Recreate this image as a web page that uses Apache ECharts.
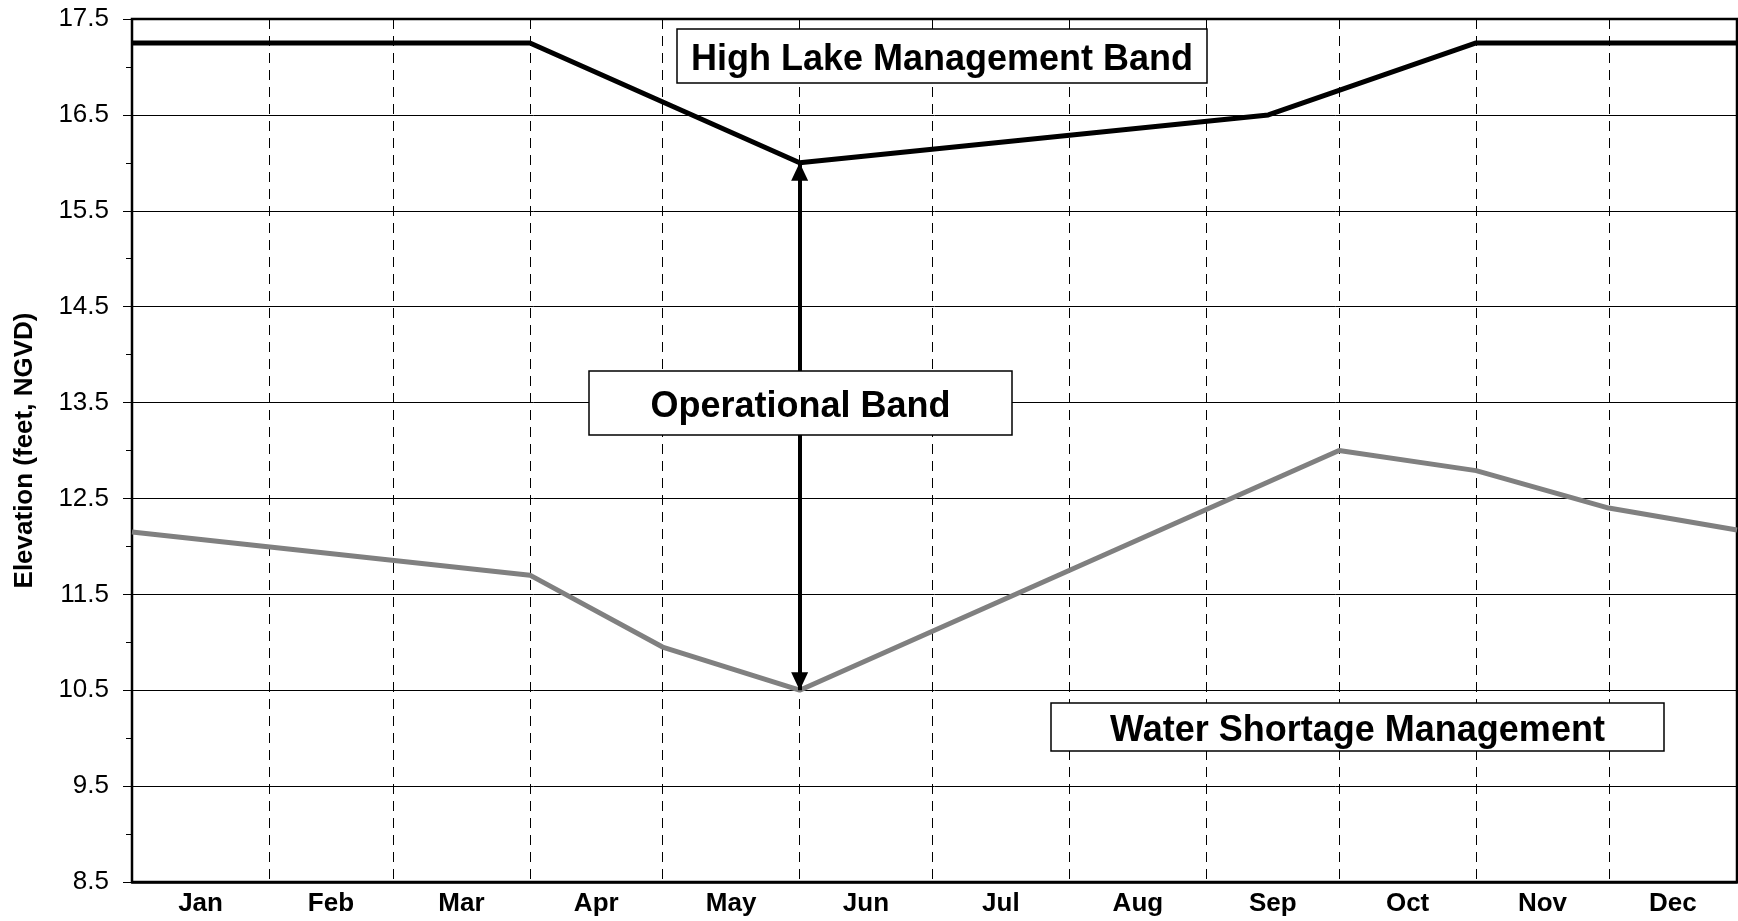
<!DOCTYPE html>
<html>
<head>
<meta charset="utf-8">
<title>Lake regulation schedule</title>
<script src="https://cdn.jsdelivr.net/npm/echarts@6.0.0/dist/echarts.min.js"></script>
<style>
  html, body { margin: 0; padding: 0; background: #fff; }
  #chart { width: 1738px; height: 921px; }
</style>
</head>
<body>
<div id="chart"></div>
<script>
// months and the day of year each one starts on
const monthNames = ['Jan', 'Feb', 'Mar', 'Apr', 'May', 'Jun', 'Jul', 'Aug', 'Sep', 'Oct', 'Nov', 'Dec']
const monthStarts = [0, 31, 59, 90, 120, 151, 181, 212, 243, 273, 304, 334]
const lastDay = 363

// High Lake Management Band (top line)
const highLakeDays = [0, 90, 151, 257, 304, 363]
const highLakeLevels = [17.25, 17.25, 16.0, 16.5, 17.25, 17.25]

// Water Shortage Management (bottom line)
const shortageDays = [0, 90, 120, 151, 273, 304, 334, 363]
const shortageLevels = [12.15, 11.7, 10.95, 10.5, 13.0, 12.79, 12.4, 12.17]

// operational band arrow: day, top end, bottom end
const arrowDay = 151
const arrowEnds = [16.0, 10.5]

const FONT = '"Liberation Sans", Arial, sans-serif'

const zip = (xs, ys) => xs.map((x, i) => [x, ys[i]])
// labels sit in the middle of each month
const monthMids = monthStarts.map((s, i) => (s + (i < monthStarts.length - 1 ? monthStarts[i + 1] : lastDay)) / 2)

// white box with a bold caption
function box(x, y, w, h, label) {
  return {
    type: 'group',
    z: 100,
    children: [
      {
        type: 'rect',
        z: 100,
        shape: { x: x, y: y, width: w, height: h },
        style: { fill: '#fff', stroke: '#000', lineWidth: 1.5 },
      },
      {
        type: 'text',
        z: 101,
        x: x + w / 2,
        y: y + h / 2 + 4,
        style: {
          text: label,
          font: 'bold 36px ' + FONT,
          fill: '#000',
          align: 'center',
          verticalAlign: 'middle',
          textAlign: 'center',
          textVerticalAlign: 'middle',
        },
      },
    ],
  }
}

const chart = echarts.init(document.getElementById('chart'))

chart.setOption({
  animation: false,
  textStyle: { fontFamily: FONT },
  grid: {
    left: 132,
    right: 1,
    top: 19,
    bottom: 39,
    show: true,
    borderColor: '#000',
    borderWidth: 2.5,
  },
  xAxis: {
    type: 'value',
    min: 0,
    max: lastDay,
    axisLine: { show: true, onZero: false, lineStyle: { color: '#000', width: 2.5 } },
    axisTick: { show: false, customValues: monthStarts },
    axisLabel: {
      customValues: monthMids,
      margin: 9,
      color: '#000',
      fontSize: 26,
      fontWeight: 'bold',
      formatter: (v) => monthNames[monthMids.indexOf(v)] || '',
    },
    splitLine: {
      show: true,
      lineStyle: { color: '#000', width: 1, type: [10, 7] },
    },
  },
  yAxis: {
    type: 'value',
    min: 8.5,
    max: 17.5,
    interval: 1,
    name: 'Elevation (feet, NGVD)',
    nameLocation: 'middle',
    nameGap: 94,
    nameTextStyle: { color: '#000', fontSize: 26, fontWeight: 'bold' },
    axisLine: { show: true, lineStyle: { color: '#000', width: 2 } },
    axisTick: { show: true, length: 9, lineStyle: { color: '#000', width: 1 } },
    minorTick: { show: true, splitNumber: 2, length: 6, lineStyle: { color: '#000', width: 1 } },
    axisLabel: {
      color: '#000',
      fontSize: 26,
      margin: 23,
      formatter: (v) => v.toFixed(1),
    },
    splitLine: { show: true, lineStyle: { color: '#000', width: 1 } },
  },
  series: [
    {
      name: 'Water Shortage Management',
      type: 'line',
      showSymbol: false,
      silent: true,
      lineStyle: { color: '#808080', width: 5 },
      data: zip(shortageDays, shortageLevels),
      z: 3,
    },
    {
      name: 'High Lake Management Band',
      type: 'line',
      showSymbol: false,
      silent: true,
      lineStyle: { color: '#000', width: 5 },
      data: zip(highLakeDays, highLakeLevels),
      z: 4,
      markLine: {
        silent: true,
        symbol: ['triangle', 'triangle'],
        symbolSize: [17, 18],
        // shift each head so its tip, not its centre, sits on the end point
        symbolOffset: [[0, 9], [0, 9]],
        label: { show: false },
        lineStyle: { color: '#000', width: 4, type: 'solid' },
        data: [[{ coord: [arrowDay, arrowEnds[0]] }, { coord: [arrowDay, arrowEnds[1]] }]],
      },
    },
  ],
  graphic: {
    elements: [
      box(677, 29, 530, 54, 'High Lake Management Band'),
      box(589, 371, 423, 64, 'Operational Band'),
      box(1051, 703, 613, 48, 'Water Shortage Management'),
    ],
  },
})
</script>
</body>
</html>
